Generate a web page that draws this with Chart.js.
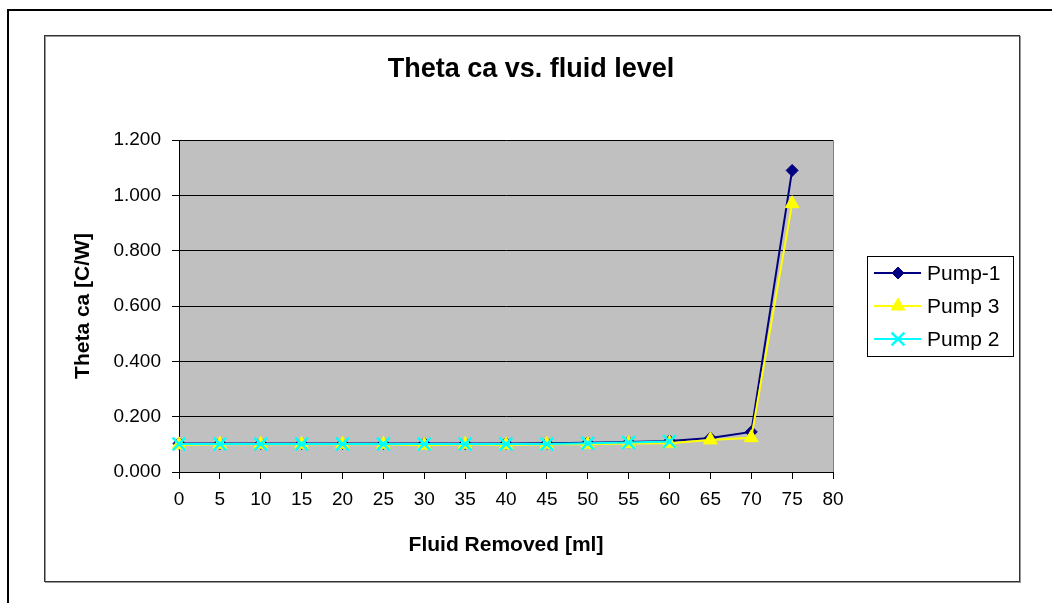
<!DOCTYPE html>
<html>
<head>
<meta charset="utf-8">
<script src="https://cdn.jsdelivr.net/npm/chart.js@4/dist/chart.umd.min.js"></script>
<style>
  html, body { margin: 0; padding: 0; background: #fff; }
  canvas { display: block; }
</style>
</head>
<body>
<canvas id="chart" width="1052" height="603"></canvas>
<script>
// fluid removed [ml]
const fluidRemoved = [0, 5, 10, 15, 20, 25, 30, 35, 40, 45, 50, 55, 60, 65, 70, 75];
const pump1 = [0.103, 0.103, 0.103, 0.103, 0.103, 0.103, 0.103, 0.103, 0.103, 0.104, 0.106, 0.108, 0.112, 0.123, 0.145, 1.090];
const pump3 = [0.098, 0.100, 0.100, 0.100, 0.100, 0.100, 0.097, 0.100, 0.098, 0.100, 0.100, 0.103, 0.104, 0.116, 0.124, 0.970];
const pump2 = [0.101, 0.101, 0.101, 0.101, 0.101, 0.101, 0.101, 0.101, 0.101, 0.101, 0.104, 0.107, 0.110];
const seriesNames = ['Pump-1', 'Pump 3', 'Pump 2'];
const yTicks = [0, 0.2, 0.4, 0.6, 0.8, 1.0, 1.2];

const FONT = "'Liberation Sans', Arial, sans-serif";

const toPoints = (vals) => vals.map((v, i) => ({ x: fluidRemoved[i], y: v }));

// frames, plot background, title, legend box
const excelLook = {
    id: 'excelLook',
    beforeDraw(chart) {
        const ctx = chart.ctx;
        const a = chart.chartArea;
        ctx.save();
        ctx.fillStyle = '#fff';
        ctx.fillRect(0, 0, chart.width, chart.height);
        // outer frame
        ctx.strokeStyle = '#000';
        ctx.lineWidth = 2;
        ctx.strokeRect(8, 10, 1100, 700);
        // chart area frame with shadow
        ctx.lineWidth = 1;
        ctx.strokeStyle = '#999';
        ctx.strokeRect(45.5, 36.5, 975, 546);
        ctx.strokeStyle = '#333';
        ctx.strokeRect(44.5, 35.5, 975, 546);
        // plot area
        ctx.fillStyle = '#c0c0c0';
        ctx.fillRect(a.left, a.top, a.right - a.left, a.bottom - a.top);
        ctx.strokeStyle = '#808080';
        ctx.beginPath();
        ctx.moveTo(a.right + 0.5, a.top);
        ctx.lineTo(a.right + 0.5, a.bottom);
        ctx.stroke();
        // title
        ctx.fillStyle = '#000';
        ctx.font = 'bold 27px ' + FONT;
        ctx.textAlign = 'center';
        ctx.textBaseline = 'middle';
        ctx.fillText('Theta ca vs. fluid level', 531, 70);
        ctx.restore();
    },
    afterDraw(chart) {
        const ctx = chart.ctx;
        ctx.save();
        ctx.fillStyle = '#fff';
        ctx.fillRect(867, 256, 146, 100);
        ctx.strokeStyle = '#000';
        ctx.lineWidth = 1;
        ctx.strokeRect(867.5, 256.5, 146, 100);
        const rows = [273, 306, 339];
        chart.data.datasets.forEach((ds, i) => {
            const y = rows[i];
            ctx.strokeStyle = ds.borderColor;
            ctx.lineWidth = 2;
            ctx.beginPath();
            ctx.moveTo(874, y);
            ctx.lineTo(921, y);
            ctx.stroke();
            ctx.fillStyle = ds.pointBackgroundColor;
            ctx.strokeStyle = ds.pointBorderColor;
            ctx.lineWidth = ds.pointBorderWidth;
            Chart.helpers.drawPoint(ctx, {
                pointStyle: ds.pointStyle,
                radius: ds.pointRadius,
                borderWidth: ds.pointBorderWidth,
                rotation: 0
            }, 898, y);
            ctx.fillStyle = '#000';
            ctx.font = '21px ' + FONT;
            ctx.textAlign = 'left';
            ctx.textBaseline = 'middle';
            ctx.fillText(ds.label, 927, y + 1);
        });
        ctx.restore();
    }
};

const datasets = [
    { label: seriesNames[0], data: toPoints(pump1), borderColor: '#000080', pointStyle: 'rectRot',
      pointRadius: 6, pointBackgroundColor: '#000080', pointBorderColor: '#000080', pointBorderWidth: 1, order: 2 },
    { label: seriesNames[1], data: toPoints(pump3), borderColor: '#ffff00', pointStyle: 'triangle',
      pointRadius: 8, pointBackgroundColor: '#ffff00', pointBorderColor: '#ffff00', pointBorderWidth: 1, order: 1 },
    { label: seriesNames[2], data: toPoints(pump2), borderColor: '#00ffff', pointStyle: 'crossRot',
      pointRadius: 9, pointBackgroundColor: '#00ffff', pointBorderColor: '#00ffff', pointBorderWidth: 2.5, order: 0 }
];
datasets.forEach(ds => {
    ds.borderWidth = 2;
    ds.fill = false;
    ds.tension = 0;
    ds.clip = false;
    ds.pointHoverRadius = ds.pointRadius;
});

new Chart(document.getElementById('chart'), {
    type: 'line',
    data: { datasets },
    options: {
        responsive: false,
        animation: false,
        events: [],
        layout: { padding: { left: 0, top: 140, right: 219, bottom: 0 } },
        plugins: { legend: { display: false }, title: { display: false }, tooltip: { enabled: false } },
        scales: {
            x: {
                type: 'linear',
                min: 0,
                max: 80,
                afterFit: (s) => { s.height = 131; },
                ticks: { stepSize: 5, color: '#000', font: { family: FONT, size: 19 }, padding: 9, maxRotation: 0 },
                grid: { drawOnChartArea: false, drawTicks: true, tickLength: 7, color: '#000' },
                border: { color: '#000', width: 1 },
                title: { display: true, text: 'Fluid Removed [ml]', color: '#000',
                         font: { family: FONT, size: 21, weight: 'bold' }, padding: { top: 0, bottom: 45 } }
            },
            y: {
                min: 0,
                max: 1.2,
                afterFit: (s) => { s.width = 179; },
                afterBuildTicks: (s) => { s.ticks = yTicks.map(v => ({ value: v })); },
                ticks: { color: '#000', font: { family: FONT, size: 19 }, padding: 11,
                         callback: (v) => Number(v).toFixed(3) },
                grid: { color: '#000', lineWidth: 1, tickLength: 7 },
                border: { color: '#000', width: 1 },
                title: { display: true, text: 'Theta ca [C/W]', color: '#000',
                         font: { family: FONT, size: 21, weight: 'bold' }, padding: { top: 71, bottom: 0 } }
            }
        }
    },
    plugins: [excelLook]
});
</script>
</body>
</html>
